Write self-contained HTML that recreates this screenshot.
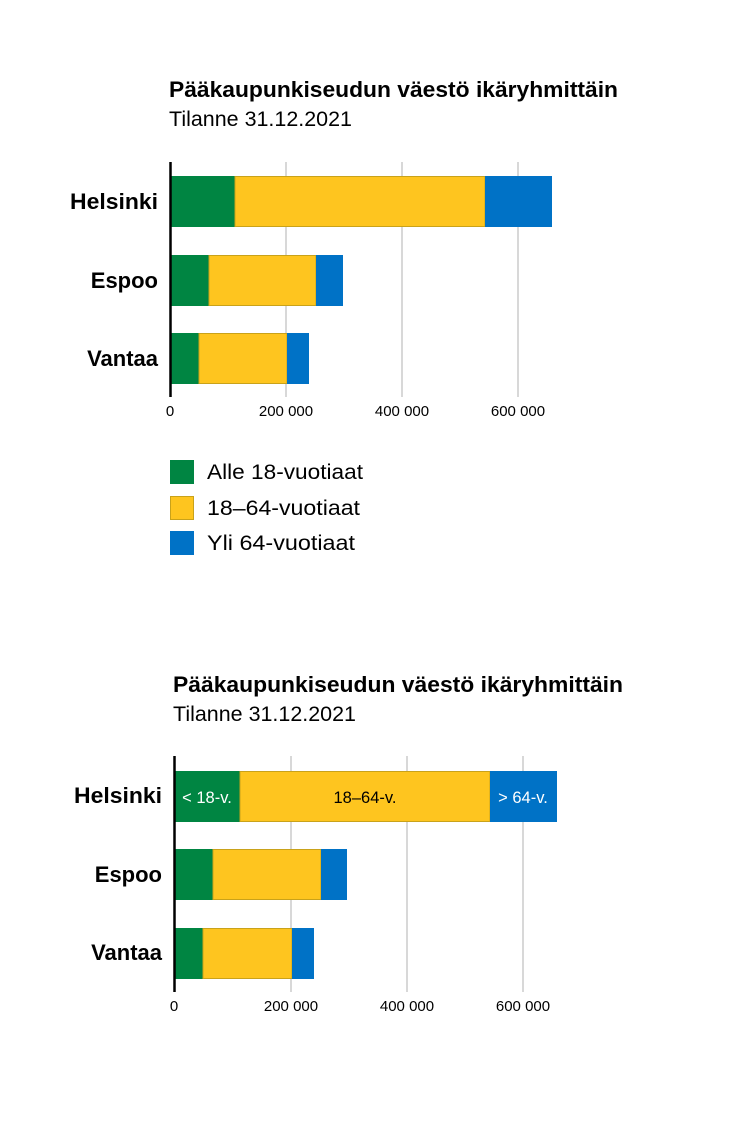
<!DOCTYPE html>
<html><head><meta charset="utf-8"><style>
html,body{margin:0;padding:0;background:#fff;}
svg{display:block;font-family:"Liberation Sans",sans-serif;}
</style></head><body>
<svg width="735" height="1127" viewBox="0 0 735 1127" xmlns="http://www.w3.org/2000/svg">
<rect width="735" height="1127" fill="#fff"/>
<!-- Chart 1 -->
<text x="169" y="97" font-size="22" font-weight="bold" fill="#000" textLength="449" lengthAdjust="spacingAndGlyphs">Pääkaupunkiseudun väestö ikäryhmittäin</text>
<text x="169" y="126" font-size="21" fill="#000" textLength="183" lengthAdjust="spacingAndGlyphs">Tilanne 31.12.2021</text>
<g stroke="#ccc" stroke-width="1.5">
<line x1="286" y1="162" x2="286" y2="397"/><line x1="402" y1="162" x2="402" y2="397"/><line x1="518" y1="162" x2="518" y2="397"/>
</g>
<g stroke="#c9a21a" stroke-width="1">
<rect x="170" y="176" width="65" height="51" fill="#008542" stroke="none"/>
<rect x="235" y="176.5" width="250" height="50" fill="#fec51f"/>
<rect x="485" y="176" width="67" height="51" fill="#0072c6" stroke="none"/>
<rect x="170" y="255" width="39" height="51" fill="#008542" stroke="none"/>
<rect x="209" y="255.5" width="107" height="50" fill="#fec51f"/>
<rect x="316" y="255" width="27" height="51" fill="#0072c6" stroke="none"/>
<rect x="170" y="333" width="29" height="51" fill="#008542" stroke="none"/>
<rect x="199" y="333.5" width="88" height="50" fill="#fec51f"/>
<rect x="287" y="333" width="22" height="51" fill="#0072c6" stroke="none"/>
</g>
<line x1="170.5" y1="162" x2="170.5" y2="397" stroke="#000" stroke-width="2.5"/>
<g font-size="22" font-weight="bold" text-anchor="end">
<text x="158" y="209" textLength="88" lengthAdjust="spacingAndGlyphs">Helsinki</text><text x="158" y="288">Espoo</text><text x="158" y="366">Vantaa</text>
</g>
<g font-size="15" text-anchor="middle">
<text x="170" y="416">0</text><text x="286" y="416">200 000</text><text x="402" y="416">400 000</text><text x="518" y="416">600 000</text>
</g>
<rect x="170" y="460" width="24" height="24" fill="#008542"/>
<rect x="170.5" y="496.5" width="23" height="23" fill="#fec51f" stroke="#c9a21a"/>
<rect x="170" y="531" width="24" height="24" fill="#0072c6"/>
<g font-size="21">
<text x="207" y="479" textLength="156" lengthAdjust="spacingAndGlyphs">Alle 18-vuotiaat</text><text x="207" y="515" textLength="153" lengthAdjust="spacingAndGlyphs">18–64-vuotiaat</text><text x="207" y="550" textLength="148" lengthAdjust="spacingAndGlyphs">Yli 64-vuotiaat</text>
</g>
<!-- Chart 2 -->
<text x="173" y="692" font-size="22" font-weight="bold" textLength="450" lengthAdjust="spacingAndGlyphs">Pääkaupunkiseudun väestö ikäryhmittäin</text>
<text x="173" y="721" font-size="21" textLength="183" lengthAdjust="spacingAndGlyphs">Tilanne 31.12.2021</text>
<g stroke="#ccc" stroke-width="1.5">
<line x1="291" y1="756" x2="291" y2="992"/><line x1="407" y1="756" x2="407" y2="992"/><line x1="523" y1="756" x2="523" y2="992"/>
</g>
<g stroke="#c9a21a" stroke-width="1">
<rect x="174" y="771" width="66" height="51" fill="#008542" stroke="none"/>
<rect x="240" y="771.5" width="250" height="50" fill="#fec51f"/>
<rect x="490" y="771" width="67" height="51" fill="#0072c6" stroke="none"/>
<rect x="174" y="849" width="39" height="51" fill="#008542" stroke="none"/>
<rect x="213" y="849.5" width="108" height="50" fill="#fec51f"/>
<rect x="321" y="849" width="26" height="51" fill="#0072c6" stroke="none"/>
<rect x="174" y="928" width="29" height="51" fill="#008542" stroke="none"/>
<rect x="203" y="928.5" width="89" height="50" fill="#fec51f"/>
<rect x="292" y="928" width="22" height="51" fill="#0072c6" stroke="none"/>
</g>
<line x1="174.5" y1="756" x2="174.5" y2="992" stroke="#000" stroke-width="2.5"/>
<g font-size="16.5">
<text x="207" y="803" fill="#fff" text-anchor="middle">&lt; 18-v.</text>
<text x="365" y="803" fill="#000" text-anchor="middle">18–64-v.</text>
<text x="523" y="803" fill="#fff" text-anchor="middle">&gt; 64-v.</text>
</g>
<g font-size="22" font-weight="bold" text-anchor="end">
<text x="162" y="803" textLength="88" lengthAdjust="spacingAndGlyphs">Helsinki</text><text x="162" y="882">Espoo</text><text x="162" y="960">Vantaa</text>
</g>
<g font-size="15" text-anchor="middle">
<text x="174" y="1011">0</text><text x="291" y="1011">200 000</text><text x="407" y="1011">400 000</text><text x="523" y="1011">600 000</text>
</g>
</svg>
</body></html>
